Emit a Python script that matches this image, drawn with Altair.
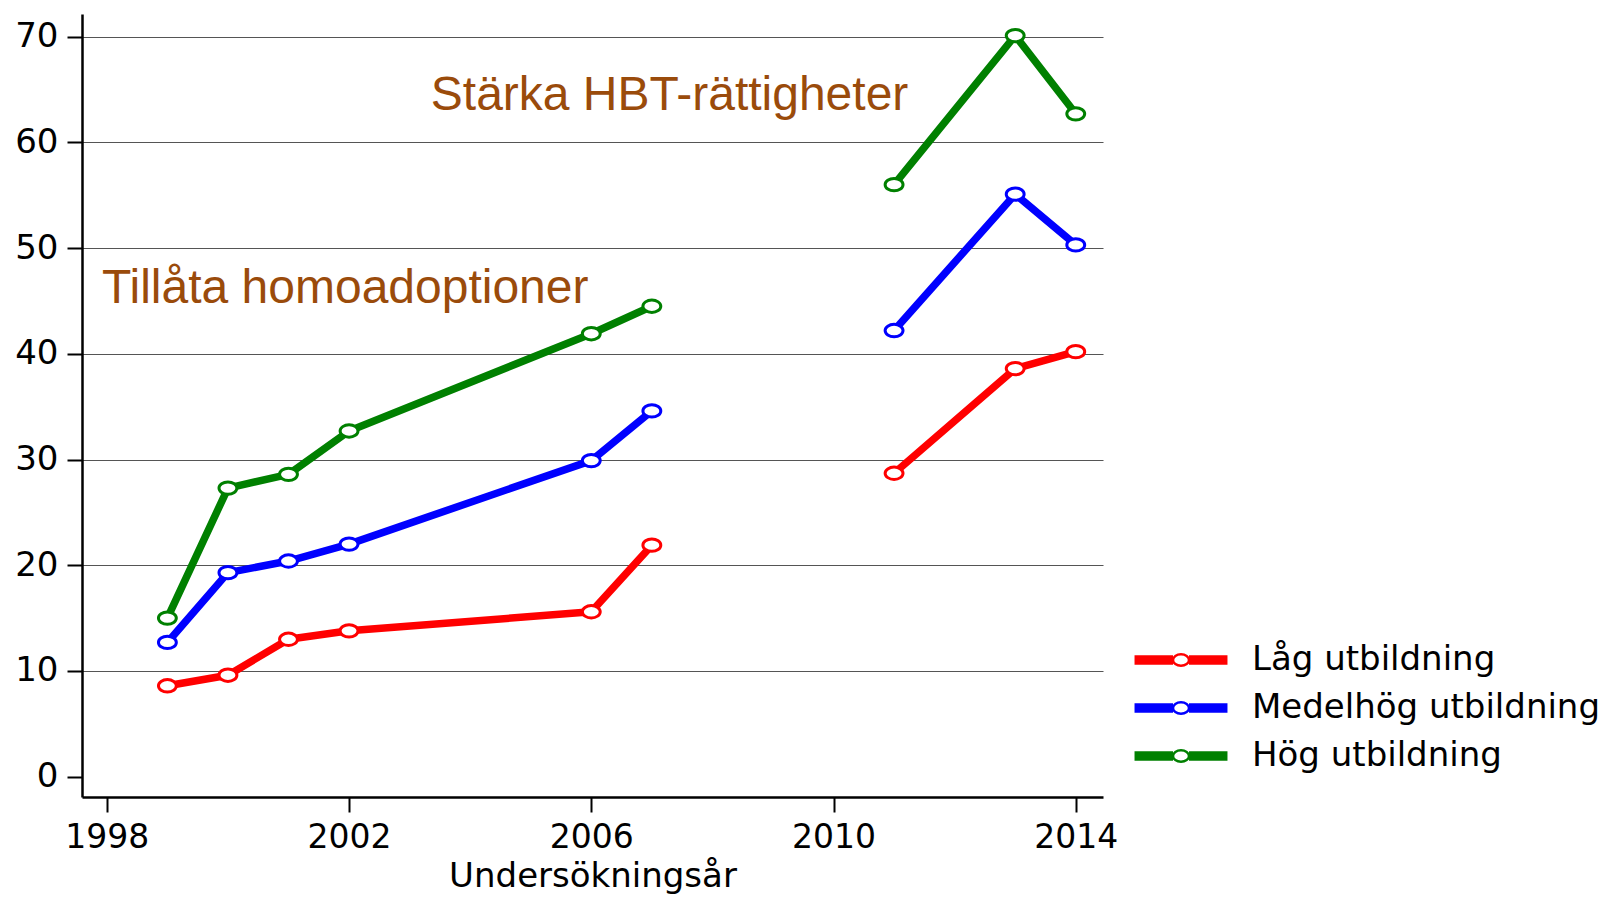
import altair as alt
import pandas as pd

# ---- data ----
years = [1999, 2000, 2001, 2002, 2006, 2007, 2011, 2013, 2014]
series_names = ["Låg utbildning", "Medelhög utbildning", "Hög utbildning"]
lag = [8.6, 9.6, 13.0, 13.8, 15.6, 21.9, 28.7, 38.6, 40.2]
medel = [12.7, 19.3, 20.4, 22.0, 29.9, 34.6, 42.2, 55.1, 50.3]
hog = [15.0, 27.3, 28.6, 32.7, 41.9, 44.5, 56.0, 70.1, 62.7]
series_colors = ["#ff0000", "#0000ff", "#008000"]

x_ticks = [1998, 2002, 2006, 2010, 2014]
y_ticks = [0, 10, 20, 30, 40, 50, 60, 70]

ann_text = ["Tillåta homoadoptioner", "Stärka HBT-rättigheter"]
ann_x = [1997.92, 2003.35]
ann_y = [44.8, 63.1]

# ---- build tables ----
rows = []
for name, vals in zip(series_names, [lag, medel, hog]):
    for yr, v in zip(years, vals):
        rows.append({"series": name, "year": yr, "value": v,
                     "period": "a" if yr < 2009 else "b"})
df = pd.DataFrame(rows)
ann_df = pd.DataFrame({"text": ann_text, "x": ann_x, "y": ann_y})

ELLIPSE = "M-1,0A1,0.69,0,1,1,1,0A1,0.69,0,1,1,-1,0Z"
# legend symbol: thick line (stacked strokes) with hollow ellipse in the middle
band = ""
for dy in [-0.45, -0.3, -0.15, 0.0, 0.15, 0.3, 0.45]:
    band += f"M-5.81,{dy}H-1.0M1.0,{dy}H5.81"
LEGEND_PATH = band + "M-1.0,0A1.0,0.72,0,1,1,1.0,0A1.0,0.72,0,1,1,-1.0,0Z"

FONT = "DejaVu Sans"

x_enc = alt.X("year:Q",
              scale=alt.Scale(domain=[1997.59, 2014.45], nice=False, zero=False),
              axis=alt.Axis(values=x_ticks, format="d", title="Undersökningsår",
                            grid=False, tickSize=15, tickWidth=2, tickColor="black",
                            domainColor="black", domainWidth=2.5,
                            labelFont=FONT, labelFontSize=33, labelColor="black",
                            labelPadding=9, labelFlush=False,
                            titleFont=FONT, titleFontSize=34, titleFontWeight="normal",
                            titleColor="black", titlePadding=5))
y_enc = alt.Y("value:Q",
              scale=alt.Scale(domain=[-1.92, 72.14], nice=False, zero=False),
              axis=alt.Axis(values=y_ticks, title=None, grid=True,
                            gridColor="#555555", gridWidth=1.2,
                            gridOpacity={"condition": {"test": "datum.value === 0", "value": 0}, "value": 1},
                            tickSize=15, tickWidth=2, tickColor="black",
                            domainColor="black", domainWidth=2.5,
                            labelFont=FONT, labelFontSize=34, labelColor="black",
                            labelPadding=9))

stroke_enc = alt.Stroke("series:N",
                        scale=alt.Scale(domain=series_names, range=series_colors),
                        sort=series_names,
                        legend=alt.Legend(title=None, orient="none", legendX=1082, legendY=629,
                                          symbolType=LEGEND_PATH, symbolSize=256,
                                          symbolStrokeWidth=2.5, symbolFillColor="white",
                                          labelFont=FONT, labelFontSize=34, labelColor="black",
                                          labelOffset=54, rowPadding=14, padding=0,
                                          labelLimit=0))

base = alt.Chart(df)
lines = base.mark_line(strokeWidth=7.5, strokeJoin="round").encode(
    x=x_enc, y=y_enc, stroke=stroke_enc, detail="period:N")
points = base.mark_point(shape=ELLIPSE, size=320, filled=True, fill="white",
                         strokeWidth=3, opacity=1).encode(
    x=x_enc, y=y_enc, stroke=stroke_enc)
ann = alt.Chart(ann_df).mark_text(align="left", baseline="alphabetic",
                                  font="Liberation Sans", fontSize=48,
                                  color="#9a4b0b").encode(
    x="x:Q", y="y:Q", text="text:N")

chart = alt.layer(lines, points, ann).properties(
    width=1021, height=783,
    autosize=alt.AutoSizeParams(type="none"),
    padding={"left": 74, "top": 6, "right": 502, "bottom": 98},
    background="white",
).configure_view(stroke=None)

chart.save("out.html", embed_options={"renderer": "svg", "actions": False})
